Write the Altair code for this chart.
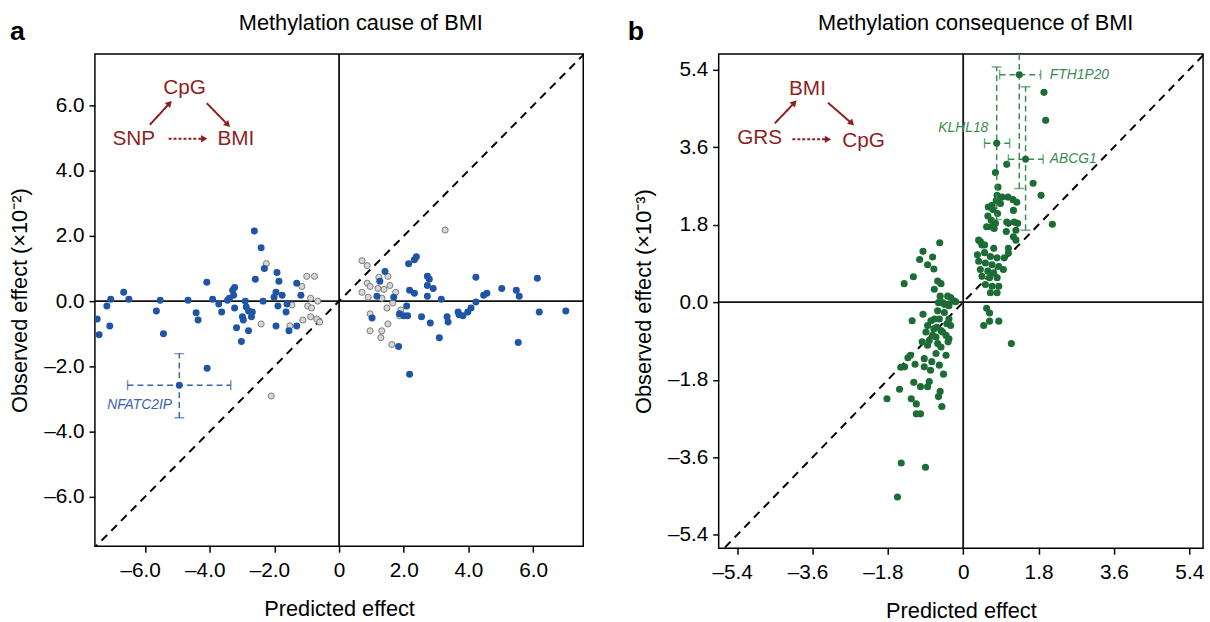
import altair as alt
import pandas as pd

FONT = "Liberation Sans"

# ---------------- Panel a (x10^-2) ----------------
a_blue_x = [-2.62, -2.41, -2.31, -2.59, -1.92, -1.86, -1.31, -1.18, -4.09, -3.23, -3.29, -3.26, -3.39,
            -3.45, -3.91, -3.72, -3.63, -3.23, -2.90, -2.87, -2.80, -2.68, -2.71, -2.99, -2.96, -3.17,
            -2.80, -3.02, -2.35, -2.01, -1.95, -1.76, -1.89, -1.61, -1.64, -1.95, -1.55, -1.31, -4.67,
            -4.42, -4.36, -5.65, -5.43, -5.53, -6.66, -6.50, -7.06, -7.18, -7.48, -7.09, -7.42, -4.08,
            1.42, 1.26, 1.17, 1.69, 2.15, 2.33, 2.39, 2.18, 2.33, 2.73, 2.79, 2.73, 2.91, 2.73, 3.16,
            2.09, 1.87, 2.00, 2.12, 1.02, 2.55, 2.82, 3.10, 1.84, 3.34, 3.37, 3.68, 3.71, 3.83, 3.98,
            4.08, 4.23, 4.23, 4.47, 4.57, 5.03, 5.48, 5.57, 6.13, 6.19, 7.01, 5.54, 2.18]
a_blue_y = [2.15, 1.64, 1.00, 0.67, 0.88, 0.61, 0.55, 0.18, 0.58, 0.42, 0.33, 0.18, 0.09,
            0.03, 0.06, -0.09, -0.33, -0.21, 0.00, -0.18, -0.30, -0.33, -0.48, -0.48, -0.58, -0.82,
            -0.91, -1.24, 0.00, 0.12, 0.27, 0.18, -0.15, -0.09, -0.33, -0.76, -0.91, -0.76, 0.03,
            -0.36, -0.58, -0.30, -1.00, 0.03, 0.27, 0.06, 0.06, -0.15, -0.55, -0.76, -1.03, -2.06,
            0.91, 0.61, 0.15, 0.12, 1.15, 1.27, 1.36, 0.33, 0.24, 0.76, 0.67, 0.48, 0.39, 0.15, 0.06,
            -0.15, -0.39, -0.45, -0.45, -0.52, -0.48, -0.67, -1.12, -1.39, -0.48, -0.64, -0.33, -0.42, -0.45, -0.33,
            -0.21, -0.03, 0.73, 0.18, 0.24, 0.39, 0.33, 0.15, 0.70, -0.33, -0.30, -1.27, -2.24]
a_gray_x = [-2.25, -1.00, -0.76, -1.15, -0.88, -0.66, -0.97, -0.85, -1.46, -1.12, -0.88, -0.69, -0.60,
            -1.52, -2.41, -2.10, 3.28, 0.71, 0.87, 0.87, 0.96, 0.71, 0.90, 1.23, 1.51, 1.57, 1.39, 1.20,
            1.75, 1.32, 1.66, 1.48, 1.91, 1.87, 0.96, 1.51, 0.96, 1.32, 1.29, 1.63]
a_gray_y = [1.15, 0.76, 0.76, 0.45, 0.09, 0.00, -0.15, -0.21, -0.12, -0.58, -0.48, -0.55, -0.64,
            -0.76, -0.70, -2.91, 2.18, 1.24, 1.09, 0.55, 0.45, 0.27, 0.12, 0.73, 0.76, 0.48, 0.36, 0.39,
            0.27, 0.09, -0.06, -0.21, -0.27, -0.45, -0.39, -0.70, -0.91, -0.91, -1.12, -1.33]
a_err_gene = ["NFATC2IP"]
a_err_x = [-4.94]
a_err_y = [-2.58]
a_err_xlo = [-6.54]
a_err_xhi = [-3.35]
a_err_ylo = [-3.58]
a_err_yhi = [-1.61]
a_label_x = [-7.17]
a_label_y = [-3.19]
a_ticks = [-6, -4, -2, 0, 2, 4, 6]
a_xdomain = [-7.55, 7.55]
a_ydomain = [-7.52, 7.58]
a_node_text = ["CpG", "SNP", "BMI"]
a_node_x = [-4.78, -6.35, -3.19]
a_node_y = [6.52, 4.98, 4.98]
a_arrow_x = [-5.85, -4.09, -5.27]
a_arrow_y = [5.41, 6.07, 4.98]
a_arrow_x2 = [-5.24, -3.44, -4.17]
a_arrow_y2 = [6.07, 5.41, 4.98]
a_arrow_kind = ["solid", "solid", "dashed"]
a_arrow_angle = [43, 135, 90]

# ---------------- Panel b (x10^-3) ----------------
b_x = [1.93, 1.97, 1.04, 0.77, 1.67, 1.86, 2.13, 0.83, 0.81, 0.93, 1.07, 1.19, 1.28, 0.79, 0.60, 0.71,
       0.82, 1.20, 0.59, 0.67, 0.77, 0.56, 0.74, 1.08, 1.30, 1.03, 1.26, 0.41, 0.51, 0.69, 0.89, 0.67,
       1.04, 1.22, 1.20, 1.26, 0.37, 0.45, 0.73, 1.08, 0.34, 0.51, 0.65, 0.81, 0.37, 0.53, 0.69, 0.85,
       0.96, 0.41, 0.59, 0.73, 0.45, 0.63, 0.81, 0.53, 0.69, 0.85, 0.65, 0.81, 0.98, 1.08, 0.56, 0.63,
       0.85, 0.63, 0.49, 1.15,
       -0.56, -0.96, -1.04, -0.73, -0.85, -0.70, -1.41, -1.19, -0.61, -0.53, -0.69, -0.30, -0.55, -0.37,
       -0.49, -0.34, -0.18, -0.61, -0.45, -0.96, -1.22, -0.69, -0.34, -0.85, -0.63, -0.49, -0.89, -0.73,
       -0.34, -0.98, -0.61, -1.26, -0.65, -0.41, -0.59, -0.45, -0.22, -0.77, -0.57, -0.39, -0.30, -0.70,
       -0.53, -0.41, -0.65, -0.81, -0.85, -0.36, -0.53, -1.32, -0.93, -0.75, -0.57, -1.49, -1.15, -1.40,
       -0.93, -0.78, -0.47, -1.18, -1.02, -0.81, -0.85, -1.52, -1.82, -1.24, -0.55, -0.59, -1.12, -0.51,
       -1.12, -1.02, -1.48, -0.90, -1.57]
b_y = [4.87, 4.22, 3.20, 3.01, 2.76, 2.48, 1.81, 2.67, 2.48, 2.44, 2.44, 2.38, 2.32, 2.36, 2.21, 2.15,
       2.06, 2.13, 2.00, 1.90, 1.83, 1.75, 1.71, 1.83, 1.83, 1.64, 1.67, 1.41, 1.33, 2.25, 2.29, 1.75,
       1.86, 1.86, 1.52, 1.44, 1.44, 1.33, 1.25, 1.25, 1.10, 1.15, 1.06, 1.03, 0.95, 0.91, 0.87, 0.83,
       0.76, 0.76, 0.72, 0.68, 0.60, 0.57, 0.57, 0.41, 0.37, 0.37, 0.22, 0.22, 1.03, 1.14, -0.14, -0.25,
       -0.44, -0.44, -0.54, -0.96,
       1.38, 1.18, 0.99, 1.05, 0.87, 0.77, 0.43, 0.59, 0.49, 0.43, 0.30, 0.11, 0.14, 0.14,
       -0.01, -0.08, 0.01, -0.20, -0.24, -0.28, -0.43, -0.39, -0.39, -0.54, -0.58, -0.69, -0.69, -0.77,
       -0.85, -0.92, -0.96, -1.23, -1.19, -1.23, -0.01, -0.05, 0.03, -0.43, -0.39, -0.50, -0.54, -0.62,
       -0.66, -0.77, -0.81, -0.89, -1.00, -0.92, -1.04, -1.29, -1.31, -1.38, -1.46, -1.51, -1.44, -1.50,
       -1.50, -1.58, -1.67, -1.86, -1.96, -1.84, -1.96, -2.02, -2.24, -2.24, -2.07, -2.19, -2.36, -2.42,
       -2.59, -2.59, -3.73, -3.83, -4.52]
b_err_gene = ["FTH1P20", "KLHL18", "ABCG1"]
b_err_x = [1.34, 0.80, 1.49]
b_err_y = [5.28, 3.69, 3.32]
b_err_xlo = [0.87, 0.51, 1.08]
b_err_xhi = [1.85, 1.11, 1.91]
b_err_ylo = [2.64, 1.92, 1.67]
b_err_yhi = [7.92, 5.46, 5.00]
b_label_x = [2.07, 0.60, 2.07]
b_label_y = [5.28, 4.04, 3.32]
b_label_align = ["left", "right", "left"]
b_ticks = [-5.4, -3.6, -1.8, 0, 1.8, 3.6, 5.4]
b_xdomain = [-5.84, 5.73]
b_ydomain = [-5.71, 5.76]
b_node_text = ["BMI", "GRS", "CpG"]
b_node_x = [-3.72, -4.86, -2.38]
b_node_y = [4.95, 3.81, 3.74]
b_arrow_x = [-4.50, -3.23, -4.08]
b_arrow_y = [4.15, 4.63, 3.78]
b_arrow_x2 = [-4.03, -2.66, -3.23]
b_arrow_y2 = [4.63, 4.15, 3.78]
b_arrow_kind = ["solid", "solid", "dashed"]
b_arrow_angle = [43, 135, 90]

RED = "#8e1f1f"
BLUE = "#1f55a6"
GREEN = "#1c6d35"


def label_expr(zero_text):
    return ("datum.value == 0 ? '%s' : (datum.value < 0 ? '\u2013' + format(-datum.value, '.1f') "
            ": format(datum.value, '.1f'))" % zero_text)


def make_axes(ticks, ytitle):
    ax = alt.Axis(values=ticks, labelExpr=label_expr("0"), title="Predicted effect", grid=False,
                  domain=False, tickSize=6, tickWidth=1.5, tickColor="black", labelFontSize=21,
                  titleFontSize=22, titleFontWeight="normal", labelPadding=8, titlePadding=18,
                  labelOffset={"condition": {"test": "datum.value < 0", "value": -5}, "value": 0},
                  labelColor="black", titleColor="black", labelFont=FONT, titleFont=FONT)
    ay = alt.Axis(values=ticks, labelExpr=label_expr("0.0"), title=ytitle, grid=False,
                  domain=False, tickSize=6, tickWidth=1.5, tickColor="black", labelFontSize=21,
                  titleFontSize=22, titleFontWeight="normal", labelPadding=5, titlePadding=12,
                  labelColor="black", titleColor="black", labelFont=FONT, titleFont=FONT)
    return ax, ay


def panel(xdomain, ydomain, ticks, ytitle, groups, err, labels, nodes, arrows, color, errcolor,
          width, height, title, letter, title_dx, letter_x):
    ax, ay = make_axes(ticks, ytitle)
    sx = alt.Scale(domain=xdomain, nice=False, zero=False)
    sy = alt.Scale(domain=ydomain, nice=False, zero=False)

    def X(f):
        return alt.X(f, type="quantitative", scale=sx, axis=ax)

    def Y(f):
        return alt.Y(f, type="quantitative", scale=sy, axis=ay)

    zero = pd.DataFrame({"x": [0.0]})
    vline = alt.Chart(zero).mark_rule(color="#111111", strokeWidth=1.8).encode(x=X("x"))
    hline = alt.Chart(zero.rename(columns={"x": "y"})).mark_rule(color="#111111", strokeWidth=1.8).encode(y=Y("y"))
    diag_df = pd.DataFrame({"x": [min(xdomain[0], ydomain[0]) - 1, max(xdomain[1], ydomain[1]) + 1]})
    diag_df["y"] = diag_df["x"]
    diag = alt.Chart(diag_df).mark_line(color="black", strokeWidth=2, strokeDash=[8, 6], clip=True).encode(
        x=X("x"), y=Y("y"))

    layers = [vline, hline, diag]
    for df, style in groups:
        layers.append(alt.Chart(df).mark_point(filled=True, clip=True, **style).encode(x=X("x"), y=Y("y")))

    edf = err
    dash = dict(color=errcolor, strokeWidth=1.5, strokeDash=[6, 4], clip=True)
    layers.append(alt.Chart(edf).mark_rule(**dash).encode(x=X("xlo"), x2="xhi", y=Y("y")))
    layers.append(alt.Chart(edf).mark_rule(**dash).encode(x=X("x"), y=Y("ylo"), y2="yhi"))
    cap = dict(color=errcolor, thickness=1.5, size=10, clip=True)
    layers.append(alt.Chart(edf).mark_tick(orient="vertical", **cap).encode(x=X("xlo"), y=Y("y")))
    layers.append(alt.Chart(edf).mark_tick(orient="vertical", **cap).encode(x=X("xhi"), y=Y("y")))
    layers.append(alt.Chart(edf).mark_tick(orient="horizontal", **cap).encode(x=X("x"), y=Y("ylo")))
    layers.append(alt.Chart(edf).mark_tick(orient="horizontal", **cap).encode(x=X("x"), y=Y("yhi")))
    layers.append(alt.Chart(edf).mark_circle(color=color, size=50, opacity=1).encode(x=X("x"), y=Y("y")))
    for al in ["left", "right"]:
        sub = labels[labels["align"] == al]
        if len(sub):
            layers.append(alt.Chart(sub).mark_text(align=al, baseline="middle", fontStyle="italic",
                                                   fontSize=14, font=FONT, color=errcolor).encode(
                x=X("x"), y=Y("y"), text="gene:N"))

    # diagram
    layers.append(alt.Chart(arrows).mark_rule(color=RED, strokeWidth=2).encode(
        x=X("x"), y=Y("y"), x2="x2", y2="y2",
        strokeDash=alt.StrokeDash("kind:N", scale=alt.Scale(domain=["solid", "dashed"], range=[[1, 0], [3, 2]]),
                                  legend=None)))
    layers.append(alt.Chart(arrows).mark_point(shape="triangle-up", filled=True, size=55, color=RED, opacity=1).encode(
        x=X("x2"), y=Y("y2"), angle=alt.Angle("angle:Q", scale=None)))
    layers.append(alt.Chart(nodes).mark_text(fontSize=21, font=FONT, color=RED, baseline="middle").encode(
        x=X("x"), y=Y("y"), text="t:N"))
    # panel letter and panel title (placed in pixels relative to the plot area)
    layers.append(alt.Chart(pd.DataFrame({"t": [letter]})).mark_text(
        fontSize=27, fontWeight="bold", font=FONT, color="black", align="left", baseline="middle").encode(
        x=alt.value(letter_x), y=alt.value(-22), text="t:N"))
    layers.append(alt.Chart(pd.DataFrame({"t": [title]})).mark_text(
        fontSize=22, font=FONT, color="black", align="center", baseline="middle").encode(
        x=alt.value(width / 2 + title_dx), y=alt.value(-31), text="t:N"))

    return alt.layer(*layers).properties(width=width, height=height)


a_groups = [
    (pd.DataFrame({"x": a_gray_x, "y": a_gray_y}),
     dict(shape="circle", size=38, fill="#d6d6d6", stroke="#7a7a7a", strokeWidth=1, opacity=1)),
    (pd.DataFrame({"x": a_blue_x, "y": a_blue_y}),
     dict(shape="circle", size=50, color=BLUE, opacity=1)),
]
a_err = pd.DataFrame({"gene": a_err_gene, "x": a_err_x, "y": a_err_y, "xlo": a_err_xlo, "xhi": a_err_xhi,
                      "ylo": a_err_ylo, "yhi": a_err_yhi})
a_labels = pd.DataFrame({"gene": a_err_gene, "x": a_label_x, "y": a_label_y, "align": ["left"]})
a_nodes = pd.DataFrame({"t": a_node_text, "x": a_node_x, "y": a_node_y})
a_arrows = pd.DataFrame({"x": a_arrow_x, "y": a_arrow_y, "x2": a_arrow_x2, "y2": a_arrow_y2,
                         "kind": a_arrow_kind, "angle": a_arrow_angle})

b_groups = [
    (pd.DataFrame({"x": b_x, "y": b_y}), dict(shape="circle", size=52, color=GREEN, opacity=1)),
]
b_err = pd.DataFrame({"gene": b_err_gene, "x": b_err_x, "y": b_err_y, "xlo": b_err_xlo, "xhi": b_err_xhi,
                      "ylo": b_err_ylo, "yhi": b_err_yhi})
b_labels = pd.DataFrame({"gene": b_err_gene, "x": b_label_x, "y": b_label_y, "align": b_label_align})
b_nodes = pd.DataFrame({"t": b_node_text, "x": b_node_x, "y": b_node_y})
b_arrows = pd.DataFrame({"x": b_arrow_x, "y": b_arrow_y, "x2": b_arrow_x2, "y2": b_arrow_y2,
                         "kind": b_arrow_kind, "angle": b_arrow_angle})

pa = panel(a_xdomain, a_ydomain, a_ticks, "Observed effect (\u00d710\u207b\u00b2)", a_groups, a_err, a_labels,
           a_nodes, a_arrows, BLUE, "#3a63ad", 494, 498, "Methylation cause of BMI", "a", 22, -86)
pb = panel(b_xdomain, b_ydomain, b_ticks, "Observed effect (\u00d710\u207b\u00b3)", b_groups, b_err, b_labels,
           b_nodes, b_arrows, GREEN, "#3b8a50", 490, 500, "Methylation consequence of BMI", "b", 15, -92)

chart = alt.hconcat(pa, pb, spacing=42).properties(
    padding={"left": 8, "top": 8, "right": 5, "bottom": 0}
).configure(font=FONT, background="white").configure_view(stroke="black", strokeWidth=1.5)

chart.save("out.html", embed_options={"renderer": "svg", "actions": False})
